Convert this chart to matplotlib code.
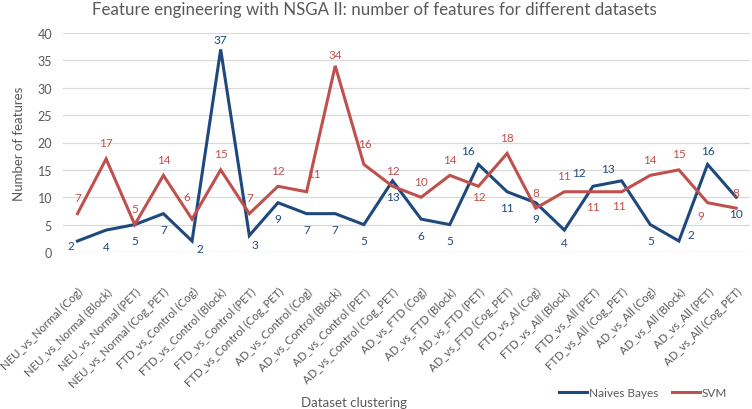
import matplotlib.pyplot as plt

plt.rcParams['font.family'] = ['Lato', 'DejaVu Sans']

categories = [
    'NEU_vs_Normal (Cog)', 'NEU_vs_Normal (Block)', 'NEU_vs_Normal (PET)', 'NEU_vs_Normal (Cog_PET)',
    'FTD_vs_Control (Cog)', 'FTD_vs_Control (Block)', 'FTD_vs_Control (PET)', 'FTD_vs_Control (Cog_PET)',
    'AD_vs_Control (Cog)', 'AD_vs_Control (Block)', 'AD_vs_Control (PET)', 'AD_vs_Control (Cog_PET)',
    'AD_vs_FTD (Cog)', 'AD_vs_FTD (Block)', 'AD_vs_FTD (PET)', 'AD_vs_FTD (Cog_PET)',
    'FTD_vs_Al (Cog)', 'FTD_vs_All (Block)', 'FTD_vs_All (PET)', 'FTD_vs_All (Cog_PET)',
    'AD_vs_All (Cog)', 'AD_vs_All (Block)', 'AD_vs_All (PET)', 'AD_vs_All (Cog_PET)',
]
naive_bayes = [2, 4, 5, 7, 2, 37, 3, 9, 7, 7, 5, 13, 6, 5, 16, 11, 9, 4, 12, 13, 5, 2, 16, 10]
svm = [7, 17, 5, 14, 6, 15, 7, 12, 11, 34, 16, 12, 10, 14, 12, 18, 8, 11, 11, 11, 14, 15, 9, 8]

BLUE = '#1F497D'
RED = '#C0504D'
GREY = '#595959'

# label offsets (pixels) roughly as placed in the original
A, B = 16, -16
nb_off = [(-7, -4), (0, B), (0, B), (0, B), (8, -7), (0, 10), (6, -9), (0, B), (0, B), (0, B), (0, B),
          (0, B), (0, B), (0, B), (-10, 14), (0, B), (0, B), (0, -12), (-14, 14), (-14, 12), (0, B),
          (12, 7), (0, 14), (0, B)]
svm_off = [(0, A), (0, A), (0, A), (0, A), (-5, 23), (0, A), (0, A), (0, A), (7, 18), (0, 11), (1, 21),
           (0, A), (0, A), (0, A), (0, -10), (0, A), (0, A), (0, A), (0, -15), (-3, -14), (0, A), (0, A),
           (-7, -13), (0, A)]

fig = plt.figure(figsize=(7.52, 4.10), dpi=100)
ax = fig.add_axes([0.084, 0.383, 0.914, 0.534])

x = list(range(len(categories)))
ax.plot(x, naive_bayes, color=BLUE, lw=2.2, label='Naives Bayes', solid_joinstyle='miter')
ax.plot(x, svm, color=RED, lw=2.2, label='SVM', solid_joinstyle='miter')

for i, v in enumerate(naive_bayes):
    ax.annotate(str(v), (i, v), xytext=nb_off[i], textcoords='offset pixels',
                ha='center', va='center', fontsize=8.5, color=BLUE)
for i, v in enumerate(svm):
    ax.annotate(str(v), (i, v), xytext=svm_off[i], textcoords='offset pixels',
                ha='center', va='center', fontsize=8.5, color=RED)

ax.set_xlim(-0.5, len(categories) - 0.5)
ax.set_ylim(0, 40)
ax.set_yticks(range(0, 41, 5))
ax.grid(axis='y', color='#D9D9D9', lw=0.9)
ax.set_axisbelow(True)
for s in ax.spines.values():
    s.set_visible(False)
ax.tick_params(axis='both', length=0, colors=GREY)
ax.tick_params(axis='y', pad=8, labelsize=9)
ax.set_xticks(x)
ax.set_xticklabels(categories, rotation=45, ha='right', rotation_mode='anchor', fontsize=8.2)
ax.tick_params(axis='x', pad=24)

ax.set_ylabel('Number of features', fontsize=9.5, color=GREY, labelpad=9)
fig.text(0.498, 0.975, 'Feature engineering with NSGA II: number of features for different datasets',
         ha='center', va='center', fontsize=12.2, color=GREY)
fig.text(0.471, 0.018, 'Dataset clustering', ha='center', va='center', fontsize=9.5, color=GREY)
fig.legend(loc='lower right', bbox_to_anchor=(0.975, 0.012), ncol=2, frameon=False, borderpad=0,
           fontsize=8.5, handlelength=2.3, handletextpad=0.2, columnspacing=1.2,
           labelcolor=GREY)

fig.savefig('out.png', dpi=100)
